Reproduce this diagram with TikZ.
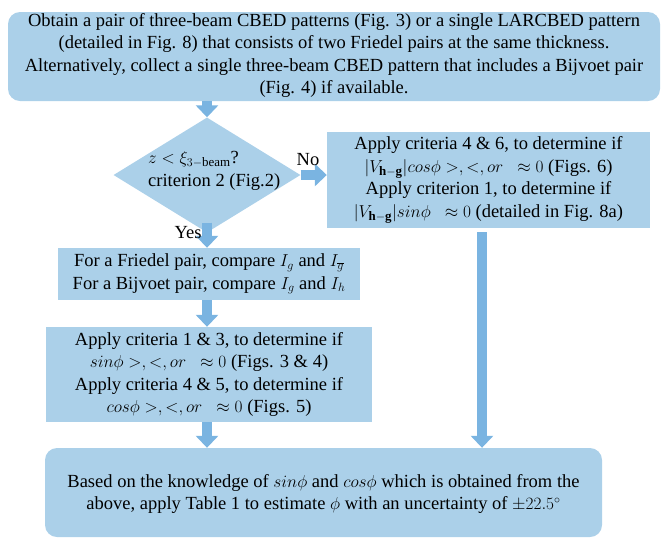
\documentclass[tikz,border=0pt]{standalone}
\usepackage{fontspec}
\setmainfont{Liberation Serif}
\usetikzlibrary{shapes.geometric,arrows.meta}
\definecolor{boxblue}{RGB}{171,208,233}
\definecolor{arrowblue}{RGB}{122,180,225}
\tikzset{
  txt/.style={font=\fontsize{18.5}{22.5}\selectfont, align=center, inner sep=0pt},
  bluebox/.style={fill=boxblue, draw=none, rectangle, inner sep=0pt},
  roundbox/.style={bluebox, rounded corners=12pt},
  blockarrow/.style={draw=arrowblue, line width=10pt, -{Triangle[width=22pt,length=12pt]}},
}
\begin{document}
\begin{tikzpicture}[x=1pt,y=-1pt]
\useasboundingbox (0,0) rectangle (668,542);
% boxes
\node[roundbox, minimum width=652pt, minimum height=89pt] (top) at (334,56.5) {};
\node[txt] at ([yshift=1pt]top.center) {Obtain a pair of three-beam CBED patterns (Fig. 3) or a single LARCBED pattern\\
(detailed in Fig. 8) that consists of two Friedel pairs at the same thickness.\\
Alternatively, collect a single three-beam CBED pattern that includes a Bijvoet pair\\
(Fig. 4) if available.};

\node[diamond, fill=boxblue, inner sep=0pt, minimum width=187pt, minimum height=115pt] (dia) at (207,175) {};
\node[txt, align=left, anchor=west] (diatext) at (148,171) {$z<\xi_{3-\mathrm{beam}}$?\\ criterion 2 (Fig.2)};

\node[bluebox, minimum width=323pt, minimum height=96pt] (right) at (488.5,180) {};
\node[txt] at (right) {Apply criteria 4 \& 6, to determine if\\
$|V_{\mathbf{h-g}}|cos\phi >,<,or\ \ \approx 0$ (Figs. 6)\\
Apply criterion 1, to determine if\\
$|V_{\mathbf{h-g}}|sin\phi\ \ \approx 0$ (detailed in Fig. 8a)};

\node[bluebox, minimum width=302pt, minimum height=52pt] (mid1) at (209,274) {};
\node[txt] at (mid1) {For a Friedel pair, compare $I_g$ and $I_{\overline{g}}$\\
For a Bijvoet pair, compare $I_g$ and $I_h$};

\node[bluebox, minimum width=326pt, minimum height=95pt] (mid2) at (209,374.5) {};
\node[txt] at (mid2) {Apply criteria 1 \& 3, to determine if\\
$sin\phi >,<,or\ \ \approx 0$ (Figs. 3 \& 4)\\
Apply criteria 4 \& 5, to determine if\\
$cos\phi >,<,or\ \ \approx 0$ (Figs. 5)};

\node[roundbox, minimum width=557pt, minimum height=89pt] (bottom) at (323.5,492.5) {};
\node[txt] at ([yshift=-1.5pt]bottom.center) {Based on the knowledge of $sin\phi$ and $cos\phi$ which is obtained from the\\
above, apply Table 1 to estimate $\phi$ with an uncertainty of $\pm22.5^\circ$};

% connectors
\coordinate (c1) at (top.south -| dia.north);
\draw[blockarrow] (c1) -- (dia.north);
\draw[blockarrow, shorten <=-10pt] (dia.south) -- (dia.south |- mid1.north);
\draw[blockarrow] (dia.east) -- (right.west |- dia.east);
\draw[blockarrow] (mid1.south -| dia.south) -- (mid2.north -| dia.south);
\draw[blockarrow] (mid2.south -| dia.south) -- (bottom.north -| dia.south);
\coordinate (r1) at (482,228);
\draw[blockarrow, shorten <=4pt] (r1) -- (r1 |- bottom.north);

% labels
\node[txt] (no) at (308,160) {No};
\node[txt] (yes) at (188,233) {Yes};
\end{tikzpicture}
\end{document}
